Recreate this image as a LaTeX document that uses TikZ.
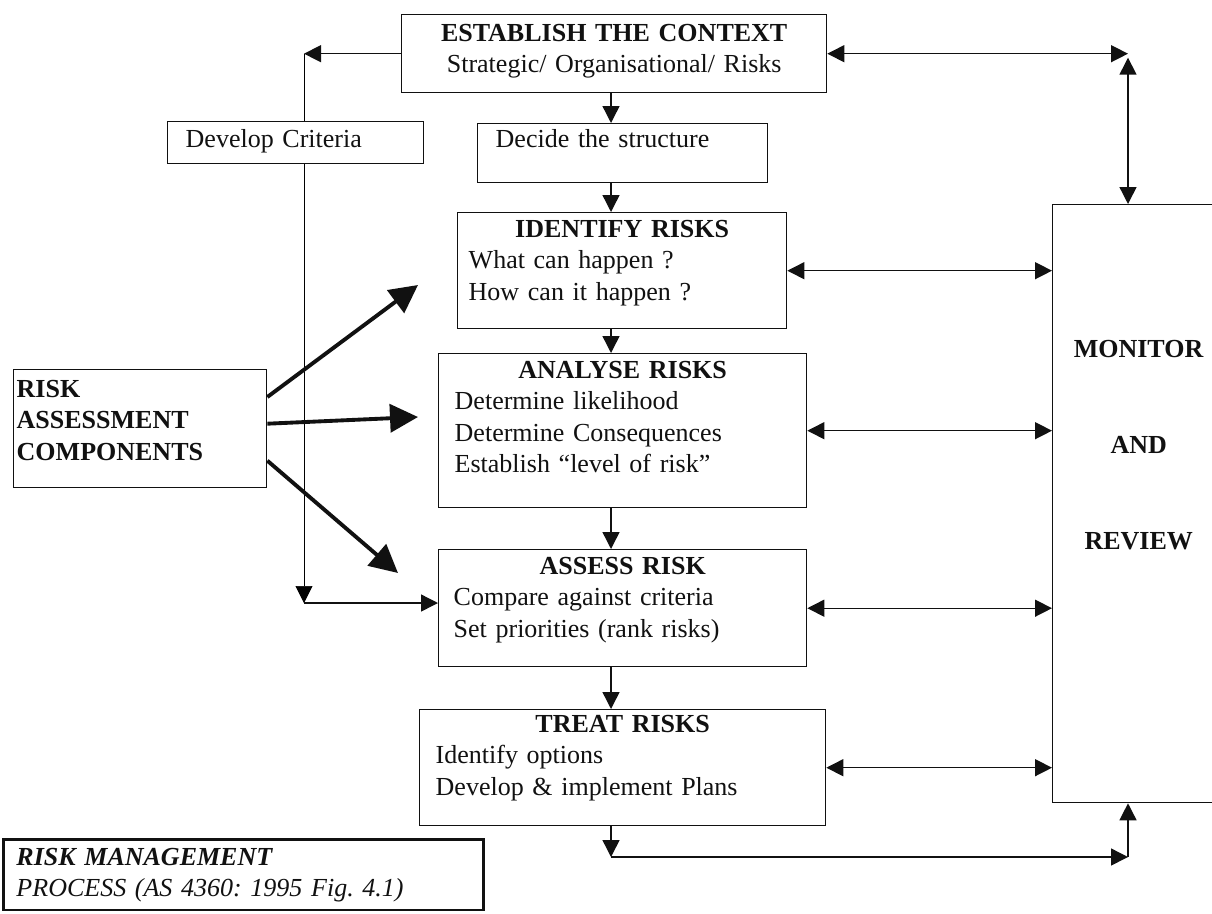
\documentclass[tikz,border=0pt]{standalone}
\usepackage{fontspec}
\setmainfont{Liberation Serif}
\usepackage{xcolor,tikz}
\usetikzlibrary{positioning,calc,arrows.meta,backgrounds}
\definecolor{rmInk}{HTML}{111111}
\newcommand\rmText{\fontsize{14.8pt}{17.9pt}\selectfont\frenchspacing}

\begin{document}
\begin{tikzpicture}[x=0.02cm, y=-0.02cm, color=rmInk, line width=0.8pt,
  >={Triangle[length=0.34cm, width=0.34cm]},
  stageBox/.style={draw=rmInk, fill=white, line width=0.8pt, anchor=north west,
    inner ysep=0.1cm, text height=0.39cm, align=left, font=\rmText, text=rmInk},
  thickArrow/.style={line width=2.2pt, -{Triangle[length=0.56cm, width=0.56cm]}}]

\useasboundingbox (0,0) rectangle (1212,913);

%% picture is laid out in pixels of the scanned figure (y grows downwards)

% --- ANCHOR POINTS ---
\coordinate (spine)     at (611,0);    % x of the main downward chain
\coordinate (critX)     at (304,0);    % x of the criteria loop
\coordinate (critLow)   at (304,603);
\coordinate (loopLow)   at (611,857);
\coordinate (loopEnd)   at (1128,857);
\coordinate (reviewX)   at (1128,0);
\coordinate (tipIdf)    at (418,285);
\coordinate (tipAna)    at (418,417);
\coordinate (tipAss)    at (398,573);

% --- PROCESS BOXES ---
\node[stageBox, align=center, minimum width=8.5cm, text width=7.9cm,
  inner xsep=0.3cm, text height=0.43cm, text depth=0.93cm]
  (ctx) at (401,14) {\textbf{ESTABLISH THE CONTEXT}\\Strategic/ Organisational/ Risks};
\node[stageBox, minimum width=5.8cm, text width=5.08cm,
  inner xsep=0.36cm, text height=0.37cm, text depth=0.61cm]
  (dec) at (477,123) {Decide the structure};
\node[stageBox, minimum width=6.58cm, text width=6.14cm,
  inner xsep=0.22cm, text depth=1.73cm]
  (idf) at (457,212)
  {\hfill\textbf{IDENTIFY RISKS}\hfill\null\\What can happen ?\\How can it happen ?};
\node[stageBox, minimum width=7.36cm, text width=6.72cm,
  inner xsep=0.32cm, text depth=2.49cm]
  (ana) at (438,353)
  {\hfill\textbf{ANALYSE RISKS}\hfill\null\\Determine likelihood\\
   Determine Consequences\\Establish “level of risk”};
\node[stageBox, minimum width=7.36cm, text width=6.76cm,
  inner xsep=0.3cm, text depth=1.75cm]
  (ass) at (438,549)
  {\hfill\textbf{ASSESS RISK}\hfill\null\\Compare against criteria\\Set priorities (rank risks)};
\node[stageBox, minimum width=8.12cm, text width=7.48cm,
  inner xsep=0.32cm, text height=0.35cm, text depth=1.77cm]
  (trt) at (419,709)
  {\hfill\textbf{TREAT RISKS}\hfill\null\\Identify options\\Develop \& implement Plans};

% --- SIDE BOXES ---
\node[stageBox, minimum width=5.12cm, text width=4.4cm,
  inner xsep=0.36cm, text height=0.41cm, text depth=0.23cm]
  (dev) at (167,121) {Develop Criteria};
\node[stageBox, minimum width=5.06cm, text width=4.94cm,
  inner xsep=0.06cm, text height=0.45cm, text depth=1.71cm]
  (rac) at (13,369) {\textbf{RISK}\\\textbf{ASSESSMENT}\\\textbf{COMPONENTS}};
\node[stageBox, align=center, minimum width=3.44cm, text width=3.24cm,
  inner xsep=0.1cm, text height=2.95cm, text depth=8.81cm]
  (mon) at (1052,204)
  {\textbf{MONITOR}\\[1.29cm]\textbf{AND}\\[1.29cm]\textbf{REVIEW}};

% --- CAPTION BOX ---
\node[stageBox, line width=1.7pt, minimum width=9.6cm, text width=9.08cm,
  inner xsep=0.26cm, text height=0.41cm, text depth=0.8cm]
  (leg) at (2,838)
  {\textbf{\textit{RISK MANAGEMENT}}\\\textit{PROCESS (AS 4360: 1995 Fig. 4.1)}};

% --- MAIN CHAIN ---
\draw[->] (ctx.south -| spine) -- (dec.north -| spine);
\draw[->] (dec.south -| spine) -- (idf.north -| spine);
\draw[->] (idf.south -| spine) -- (ana.north -| spine);
\draw[->] (ana.south -| spine) -- (ass.north -| spine);
\draw[->] (ass.south -| spine) -- (trt.north -| spine);

% --- FEEDBACK TO MONITOR AND REVIEW ---
\draw[->] (trt.south -| spine) -- (loopLow);
\draw[->] (loopLow) -- (loopEnd);
\draw[->] (loopEnd) -- (mon.south -| loopEnd);
\draw[<->] (ctx.east) -- (ctx.east -| reviewX);
\draw[<->] ($(ctx.east -| reviewX)+(0,4)$) -- (mon.north -| reviewX);
\draw[<->] (idf.east) -- (idf.east -| mon.west);
\draw[<->] (ana.east) -- (ana.east -| mon.west);
\draw[<->] (ass.east) -- (ass.east -| mon.west);
\draw[<->] (trt.east) -- (trt.east -| mon.west);

% --- CRITERIA LOOP (runs behind Develop Criteria) ---
\draw[->] (ctx.west) -- (ctx.west -| critX);
\begin{scope}[on background layer]
  \draw[->] (ctx.west -| critX) -- (critLow);
\end{scope}
\draw[->] (critLow) -- (critLow -| ass.west);

% --- ASSESSMENT COMPONENTS ---
\draw[thickArrow] ($(rac.north east)+(0,28)$) -- (tipIdf);
\draw[thickArrow] ($(rac.east)+(0,-5)$) -- (tipAna);
\draw[thickArrow] ($(rac.east)+(0,32)$) -- (tipAss);

\end{tikzpicture}
\end{document}
